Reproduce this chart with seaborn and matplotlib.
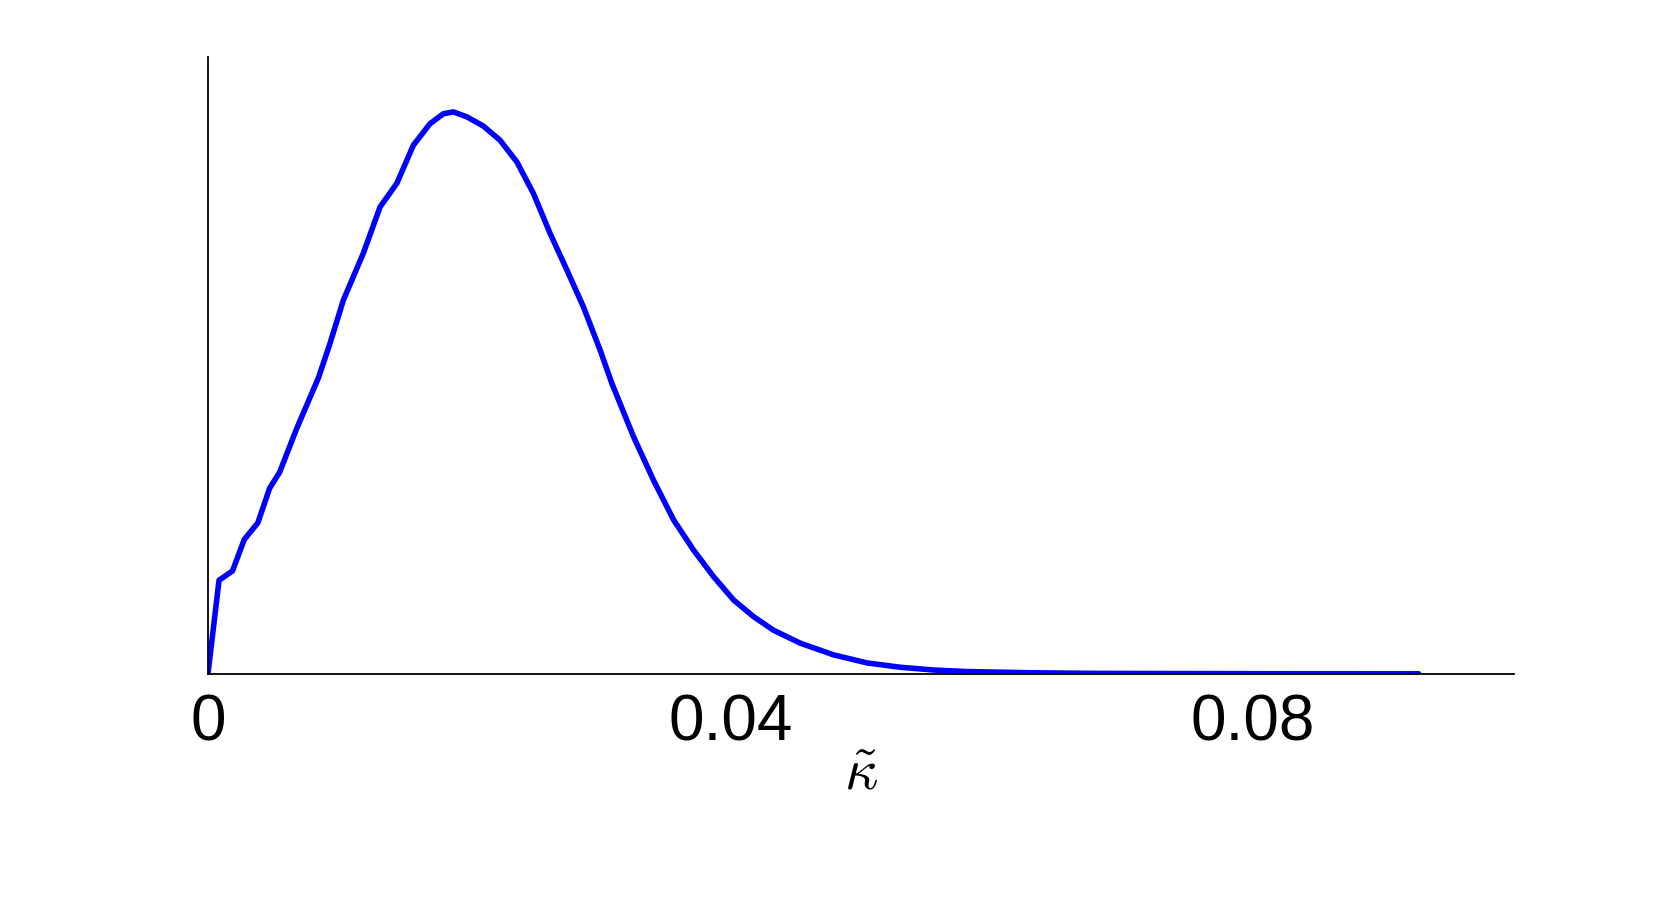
import matplotlib
matplotlib.use("Agg")
import matplotlib.pyplot as plt
import seaborn as sns
import pandas as pd

# curve (density of kappa-tilde, y in axis fractions)
kappa = [0.0, 0.00085, 0.00188, 0.00278, 0.00382, 0.00472, 0.00549, 0.00678,
         0.00846, 0.00935, 0.01037, 0.01190, 0.01318, 0.01446, 0.01573,
         0.01701, 0.01803, 0.01879, 0.01982, 0.02109, 0.02237, 0.02365,
         0.02492, 0.02620, 0.02748, 0.02875, 0.03003, 0.03093, 0.03258,
         0.03412, 0.03565, 0.03718, 0.03871, 0.04025, 0.04178, 0.04331,
         0.04536, 0.04791, 0.05047, 0.05302, 0.05557, 0.05813, 0.0632,
         0.0683, 0.0800, 0.0927]
density = [0.0, 0.152, 0.167, 0.218, 0.245, 0.301, 0.327, 0.397,
           0.480, 0.536, 0.606, 0.682, 0.757, 0.795, 0.857,
           0.892, 0.908, 0.911, 0.903, 0.888, 0.865, 0.830,
           0.779, 0.714, 0.655, 0.595, 0.525, 0.471, 0.385,
           0.314, 0.250, 0.201, 0.158, 0.120, 0.093, 0.071,
           0.050, 0.031, 0.018, 0.011, 0.0065, 0.004, 0.002,
           0.001, 0.0006, 0.0005]
tick_vals = [0, 0.04, 0.08]
tick_labels = ["0", "0.04", "0.08"]

df = pd.DataFrame({"kappa": kappa, "density": density})

sns.set_style("white")
plt.rcParams["font.family"] = ["Liberation Sans", "DejaVu Sans"]
plt.rcParams["mathtext.fontset"] = "cm"

fig = plt.figure(figsize=(16.81, 9.10), dpi=100)
ax = fig.add_axes([0.1237, 0.2593, 0.9006 - 0.1237, 0.9374 - 0.2593])

sns.lineplot(data=df, x="kappa", y="density", sort=False, estimator=None,
             color="#0000ff", linewidth=4, ax=ax)

ax.set_xlim(0, 0.1)
ax.set_ylim(0, 1)
ax.set_xticks(tick_vals)
ax.set_xticklabels(tick_labels, fontsize=46, color="black")
ax.set_yticks([])
ax.tick_params(axis="x", length=0, pad=14)
ax.set_xlabel(r"$\tilde{\kappa}$", fontsize=42, labelpad=-4, color="black")
ax.set_ylabel("")
for side in ["top", "right"]:
    ax.spines[side].set_visible(False)
for side in ["left", "bottom"]:
    ax.spines[side].set_color("black")
    ax.spines[side].set_linewidth(1.3)

fig.savefig("out.png", dpi=100, facecolor="white")
